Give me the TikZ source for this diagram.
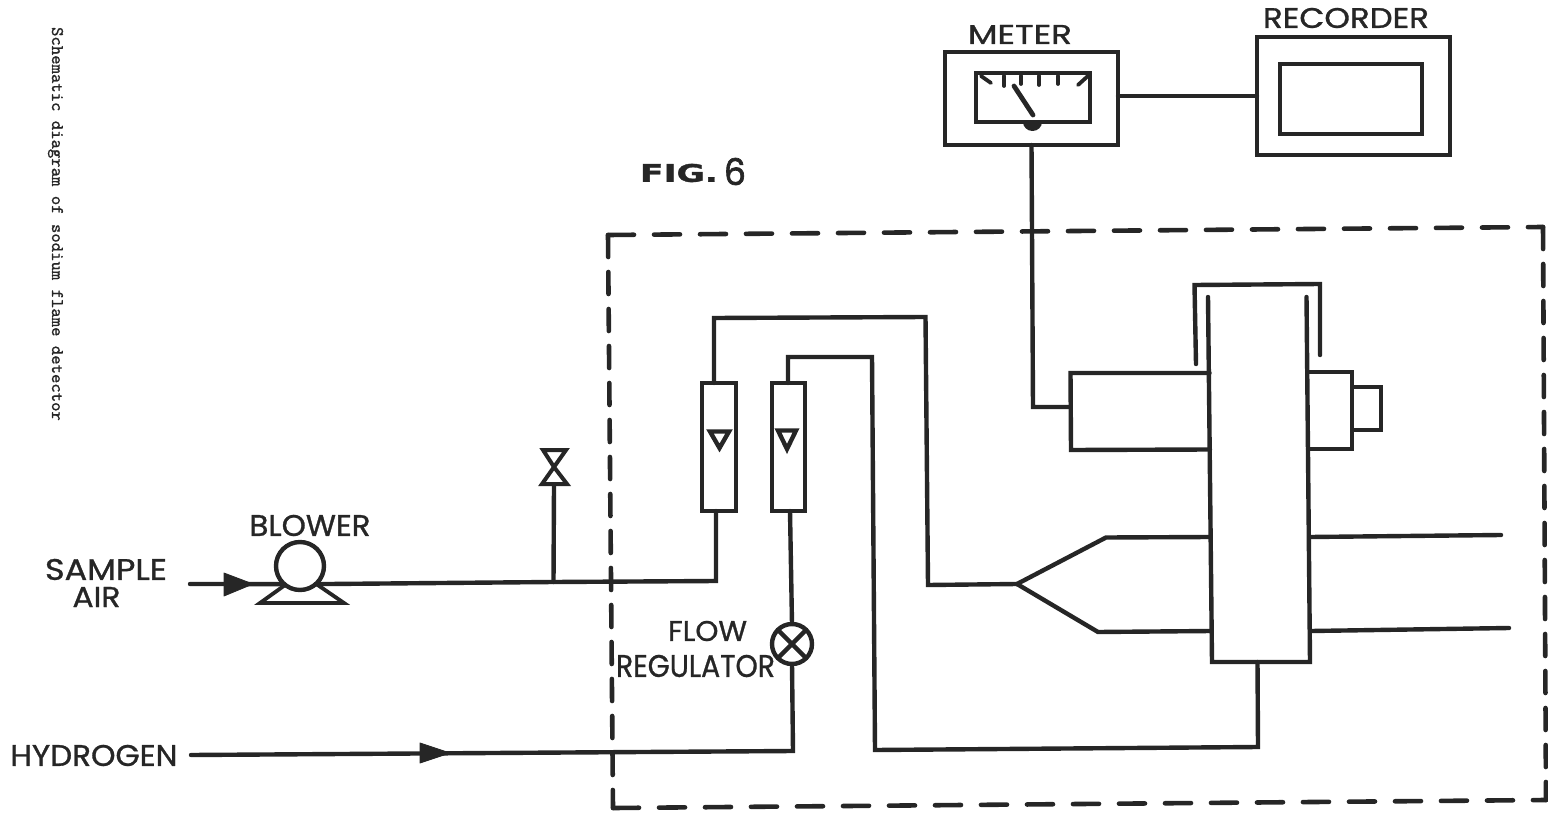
\documentclass[tikz,border=0pt]{standalone}
\usepackage{graphicx}
\usepackage{fontspec}
\setmainfont{Liberation Sans}
\newfontfamily\letterf[FakeBold=1]{Poppins}
\newfontfamily\sixf[FakeBold=2]{Poppins}
\newfontfamily\figf[FakeBold=1.2]{DejaVu Sans}
\setmonofont[FakeBold=0.5]{Latin Modern Mono}
\definecolor{ink}{HTML}{262626}
% text fitted to a width and a cap height given in pt
\newcommand\lettered[3]{\resizebox{#1pt}{#2pt}{\letterf #3}}
\tikzset{
 pipe/.style={draw=ink,line width=2.2pt,line join=miter,line cap=round},
 fine/.style={pipe,line width=1.9pt},
 lab/.style={inner sep=0pt,outer sep=0pt,text=ink},
 head/.style={fill=ink,draw=ink,line width=0.4pt,line join=round},
 framebase/.style={draw=ink,line width=2.3pt,line cap=round},
 frameh/.style={framebase,dash pattern=on 13pt off 10pt},
 framev/.style={framebase,dash pattern=on 11pt off 7.5pt},
 box/.style={draw=ink,line width=2.2pt,rectangle,inner sep=0pt,outer sep=0pt},
 disc/.style={draw=ink,line width=2.2pt,circle,inner sep=0pt,outer sep=0pt},
}
\begin{document}
\begin{tikzpicture}[x=0.5pt,y=-0.5pt]
\useasboundingbox (0,0) rectangle (1548,813);
% ---- anchors of the enclosure
\coordinate (ftl) at (608,235);
\coordinate (ftr) at (1543,227);
\coordinate (fbr) at (1546,800);
\coordinate (fbl) at (613,808);
\draw[frameh] (ftl) -- (ftr);
\draw[framev] (ftr) -- (fbr);
\draw[frameh] (fbl) -- (fbr);
\draw[framev] (ftl) -- (fbl);
% ---- labels
\node[lab,anchor=base,font=\ttfamily\fontsize{8.93}{9}\selectfont,rotate=-90] (cap) at (52,224) {Schematic diagram of sodium flame detector};
\node[lab] (fig) at (679,173) {\resizebox{39pt}{9pt}{\figf\bfseries FIG.}};
\node[lab] (six) at (735,171.5) {\resizebox{11pt}{13.5pt}{\sixf 6}};
\node[lab] (lmeter) at (1020,34.5) {\lettered{52}{9.5}{METER}};
\node[lab] (lrec) at (1346,18) {\lettered{83}{10}{RECORDER}};
\node[lab] (lblow) at (310,525.5) {\lettered{60.5}{10.5}{BLOWER}};
\node[lab] (lsamp) at (106,569.5) {\lettered{61}{10.5}{SAMPLE}};
\node[lab] (lair) at (96.5,597) {\lettered{24}{10}{AIR}};
\node[lab] (lhyd) at (94,755.5) {\lettered{83.5}{10.5}{HYDROGEN}};
\node[lab] (lflow) at (707.5,631) {\lettered{39.5}{10}{FLOW}};
\node[lab] (lreg) at (695.5,666) {\lettered{79.5}{11}{REGULATOR}};
% ---- meter and recorder
\node[box,minimum width=86.5pt,minimum height=46.5pt] (meter) at (1031.5,98.5) {};
\node[box,minimum width=57pt,minimum height=24.5pt] (dial) at (1033,97.5) {};
\foreach \a/\b/\c/\d in {981/76/991/83,1004/76/1004/86,1021/76/1021/84,1039/76/1039/85,1058/76/1058/84,1089/75/1078/85}
  \draw[fine] (\a,\b) -- (\c,\d);
\coordinate (ndl) at (1014,86);
\coordinate (piv) at (1033,115);
\draw[pipe,line width=2.4pt] (ndl) -- (piv);
\fill[ink] (1023,122) arc[start angle=180,end angle=0,x radius=9.5,y radius=9] -- cycle;
\node[box,minimum width=96.5pt,minimum height=59pt] (rec) at (1353.5,96) {};
\node[box,minimum width=71pt,minimum height=35pt] (recin) at (1351,99) {};
\draw[pipe] (meter.east |- rec.west) -- (rec.west);
% ---- detector
\coordinate (coltl) at (1208,297);
\coordinate (colbl) at (1212,662);
\coordinate (colbr) at (1310,662);
\coordinate (coltr) at (1306.5,297);
\draw[pipe] (coltl) -- (colbl) -- (colbr) -- (coltr);
\coordinate (capa) at (1196,364);
\coordinate (capb) at (1194.5,285);
\coordinate (capc) at (1320,284);
\coordinate (capd) at (1320,355);
\draw[pipe] (capa) -- (capb) -- (capc) -- (capd);
% photometer head
\coordinate (hl) at (1209.5,373);
\coordinate (hll) at (1070.5,373);
\coordinate (hlm) at (1070.5,407);
\coordinate (hlb) at (1071,450);
\coordinate (hb) at (1210,449.5);
\draw[pipe] (hl) -- (hll) -- (hlb) -- (hb);
\draw[pipe] (1308,372) -- (1352,372) -- (1352,449) -- (1308,449);
\draw[fine] (1353,387) -- (1381,387) -- (1381,430) -- (1353,430);
\coordinate (mcor) at (1033,407);
\draw[pipe] (meter.south) -- (mcor) -- (hlm);
% burner inlet cone and exits
\coordinate (apex) at (1017,584);
\coordinate (up) at (1106,537.5);
\coordinate (low) at (1098,632);
\draw[pipe] (apex) -- (up) -- (1210,537);
\draw[pipe] (apex) -- (low) -- (1211,631);
\coordinate (ex1a) at (1310,537);
\coordinate (ex1b) at (1501,535);
\coordinate (ex2a) at (1311,631);
\coordinate (ex2b) at (1509,628);
\draw[pipe] (ex1a) -- (ex1b);
\draw[pipe] (ex2a) -- (ex2b);
% ---- flow meters
\node[box,minimum width=17pt,minimum height=64pt] (rot1) at (719,447) {};
\node[box,minimum width=16.5pt,minimum height=64pt] (rot2) at (788.5,447) {};
\draw[pipe] (710,431.5) -- (729,431.5) -- (719.5,448) -- cycle;
\draw[pipe] (778,430.5) -- (796,430.5) -- (787,449) -- cycle;
\coordinate (r1t) at (714,383);
\coordinate (r1b) at (716,511);
\coordinate (r2t) at (788,383);
\coordinate (r2b) at (790,511);
% air to first flow meter, then to the cone
\draw[pipe] (r1t) -- (714,318) -- (925.5,317) -- (928,585) -- (apex);
% hydrogen second flow meter over, down, to the column
\coordinate (colout) at (1257.5,662);
\draw[pipe] (r2t) -- (788,357) -- (872,357) -- (875,750) -- (1258,747) -- (colout);
% ---- flow regulator
\node[disc,minimum size=20pt] (reg) at (792,644) {};
\draw[pipe] (reg.45) -- (reg.225);
\draw[pipe] (reg.135) -- (reg.-45);
\draw[pipe] (r2b) -- (reg.north);
\coordinate (hin) at (191,755);
\coordinate (hend) at (793,751);
\draw[pipe] (hin) -- (hend) -- (reg.south);
\draw[head] (420,743) -- (450,753) -- (420,763) -- cycle;
% ---- blower and sample line
\node[disc,minimum size=24pt] (blower) at (300,566) {};
\coordinate (sin) at (190,584);
\coordinate (tee) at (553.5,582);
\coordinate (knee) at (716,581);
\draw[pipe] (sin) -- (blower.-131);
\draw[pipe] (blower.-49) -- (tee) -- (knee) -- (r1b);
\draw[head] (224,573) -- (253,584) -- (224,596) -- cycle;
\draw[fine] (blower.-128) -- (260,603) -- (344,603) -- (blower.-48);
% ---- bleed valve
\coordinate (vmid) at (554,467);
\coordinate (vbot) at (554,485);
\draw[pipe] (tee) -- (vbot);
\draw[pipe,line width=2pt] (vmid) -- (543,450) -- (566,450) -- (vmid) -- (542,484) -- (567,484) -- cycle;
\end{tikzpicture}
\end{document}
